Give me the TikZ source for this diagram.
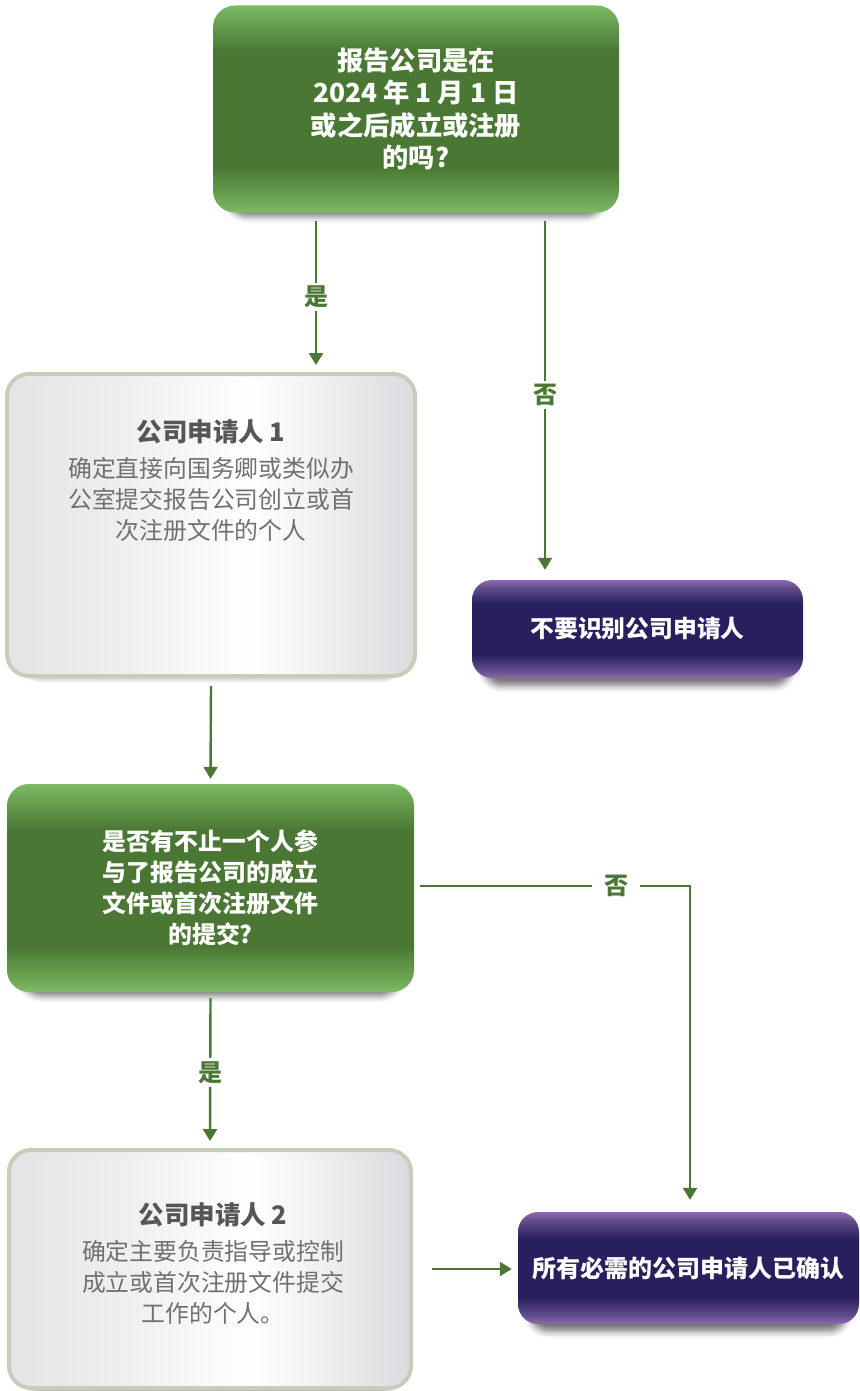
\documentclass[tikz,border=0pt]{standalone}
\usepackage{fontspec}
\setmainfont{Noto Sans CJK SC}
\usetikzlibrary{shadows.blur,arrows.meta,calc}
\definecolor{gl}{HTML}{7DBB64}
\definecolor{gd}{HTML}{4A7834}
\definecolor{pl}{HTML}{8A6BAA}
\definecolor{pd}{HTML}{281F5F}
\definecolor{g1}{HTML}{E3E4E6}
\definecolor{g2}{HTML}{F1F1F2}
\definecolor{g3}{HTML}{DADBDE}
\definecolor{gborder}{HTML}{C6CEBA}
\definecolor{arrowc}{HTML}{4A7834}
\definecolor{titlec}{HTML}{565656}
\definecolor{bodyc}{HTML}{707070}
\pgfdeclareverticalshading{greenv}{100bp}{color(0bp)=(gl); color(25bp)=(gl); color(28bp)=(gl!70!gd); color(36bp)=(gd); color(64bp)=(gd); color(72bp)=(gl!70!gd); color(75bp)=(gl); color(100bp)=(gl)}
\pgfdeclareverticalshading{purplev}{100bp}{color(0bp)=(pl); color(25bp)=(pl); color(29bp)=(pl!60!pd); color(37bp)=(pd); color(63bp)=(pd); color(71bp)=(pl!60!pd); color(75bp)=(pl); color(100bp)=(pl)}
\pgfdeclarehorizontalshading{grayh}{100bp}{color(0bp)=(g1); color(25bp)=(g1); color(42bp)=(g2); color(55bp)=(white); color(63bp)=(g2); color(75bp)=(g3); color(100bp)=(g3)}
\begin{document}
\begin{tikzpicture}[x=1pt,y=-1pt,
  shad/.style={blur shadow={shadow xshift=0pt, shadow yshift=-12pt, shadow blur radius=7pt, shadow opacity=55, shadow scale=0.93}},
  gbox/.style={shad, rounded corners=22pt, shade, shading=greenv, text=white, align=center, inner sep=0pt,
     font=\bfseries\fontsize{26.3}{32.5}\selectfont},
  pbox/.style={shad, rounded corners=20pt, shade, shading=purplev, text=white, align=center, inner sep=0pt,
     font=\bfseries\fontsize{23.8}{28}\selectfont},
  graybox/.style={shad, rounded corners=22pt, shade, shading=grayh, draw=gborder, line width=4pt, inner sep=0pt},
  graytext/.style={align=center, text=bodyc, font=\fontsize{23.8}{31}\selectfont},
  arr/.style={draw=arrowc, line width=2.4pt, -{Triangle[length=12pt,width=14pt]}},
  lbl/.style={fill=white, text=arrowc, font=\bfseries\fontsize{24}{24}\selectfont, inner sep=3pt}
]
\useasboundingbox (0,0) rectangle (859,1391);

\node[gbox, minimum width=406pt, minimum height=207pt] (q1) at (416,109)
  {报告公司是在\\2024 年 1 月 1 日\\或之后成立或注册\\的吗?};

\node[graybox, minimum width=408pt, minimum height=302pt] (a1) at (211,525) {};
\node[graytext] (a1t) at (211,481)
  {{\bfseries\color{titlec}\fontsize{25.5}{30}\selectfont 公司申请人 1}\\[5pt]确定直接向国务卿或类似办\\公室提交报告公司创立或首\\次注册文件的个人};

\node[pbox, minimum width=331pt, minimum height=98pt] (n1) at (637.5,629) {不要识别公司申请人};

\node[gbox, minimum width=407pt, minimum height=208pt, font=\bfseries\fontsize{23.9}{31}\selectfont] (q2) at (210.5,888)
  {是否有不止一个人参\\与了报告公司的成立\\文件或首次注册文件\\的提交?};

\node[graybox, minimum width=402pt, minimum height=238pt] (a2) at (210,1269) {};
\node[graytext] (a2t) at (213,1264)
  {{\bfseries\color{titlec}\fontsize{25.5}{30}\selectfont 公司申请人 2}\\[5pt]确定主要负责指导或控制\\成立或首次注册文件提交\\工作的个人。};

\node[pbox, minimum width=341pt, minimum height=112pt, font=\bfseries\fontsize{24}{28}\selectfont] (d) at (688.5,1268) {所有必需的公司申请人已确认};

% connectors
\draw[arr] ([xshift=-100pt,yshift=-8pt]q1.south) -- ([xshift=105pt,yshift=7pt]a1.north)
  node[lbl, pos=0.53] {是};
\draw[arr] ([xshift=129pt,yshift=-8pt]q1.south) -- ([xshift=-92.5pt,yshift=10pt]n1.north)
  node[lbl, pos=0.5] {否};
\draw[arr] ([yshift=-8pt]a1.south) -- ([yshift=5pt]q2.north);
\draw[arr] ([yshift=-6pt]q2.south) -- ([yshift=7pt]a2.north)
  node[lbl, pos=0.52] {是};
\draw[arr] ([xshift=6pt,yshift=2pt]q2.east) -| ([xshift=1.5pt,yshift=12pt]d.north)
  node[lbl, pos=0.363, inner xsep=12pt] {否};
\draw[arr] ([xshift=19pt]a2.east) -- ([xshift=-6pt]d.west |- a2.east);
\end{tikzpicture}
\end{document}
